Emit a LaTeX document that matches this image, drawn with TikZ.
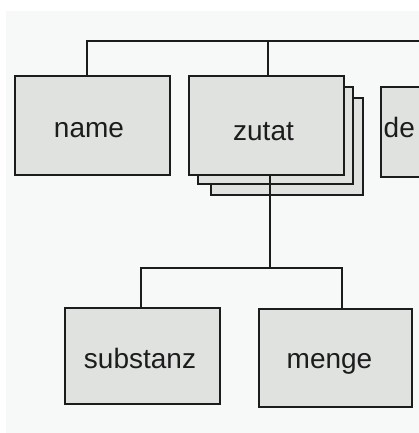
\documentclass[tikz,border=0pt]{standalone}
\usepackage{fontspec}
\setmainfont{Liberation Sans}
\definecolor{pagebg}{RGB}{246,249,247}
\definecolor{boxfill}{RGB}{224,226,224}
\definecolor{linec}{RGB}{28,28,28}
\begin{document}
\begin{tikzpicture}[x=1pt,y=-1pt,
  entity/.style={draw=linec, fill=boxfill, line width=1.4pt, rectangle,
    inner sep=0pt, minimum width=155pt, minimum height=99pt},
  lbl/.style={anchor=base, inner sep=0pt, text=linec,
    font=\fontsize{28}{30}\selectfont},
  wire/.style={draw=linec, line width=1.4pt}]
\useasboundingbox (0,0) rectangle (419,433);
\clip (0,0) rectangle (419,433);
\fill[white] (0,0) rectangle (419,433);
\fill[pagebg] (6,11) rectangle (419,433);

% stacked copies behind the repeated element
\node[entity, minimum width=152pt, minimum height=97pt] (zs2) at (287,146.5) {};
\node[entity, minimum height=97pt] (zs1) at (275.5,135.5) {};

% boxes of the first level
\node[entity] (name) at (92.5,125.5) {};
\node[entity] (zutat) at (266.5,125.5) {};
\node[entity, minimum width=158pt, minimum height=90pt] (de) at (460,132) {};

% boxes of the second level
\node[entity, minimum height=96pt] (substanz) at (142.5,356) {};
\node[entity, minimum width=153pt, minimum height=98pt] (menge) at (335.5,358) {};

% texts
\node[lbl] (tname) at (89,137) {name};
\node[lbl] (tzutat) at (263.5,140) {zutat};
\node[lbl, anchor=base west] (tde) at (383.5,137) {de};
\node[lbl] (tsubstanz) at (140,368) {substanz};
\node[lbl] (tmenge) at (329.5,368) {menge};

% connectors
\coordinate (topbar) at (87,41);
\coordinate (rightend) at (425,41);
\coordinate (fork) at (270,268);
\draw[wire] (name.north -| topbar) -- (topbar) -- (rightend);
\draw[wire] (268,41) -- (zutat.north -| 268,0);
\draw[wire] (zutat.south -| fork) -- (fork);
\draw[wire] (substanz.north -| 141,0) -- (141,268) -- (342,268) -- (menge.north -| 342,0);
\end{tikzpicture}
\end{document}
